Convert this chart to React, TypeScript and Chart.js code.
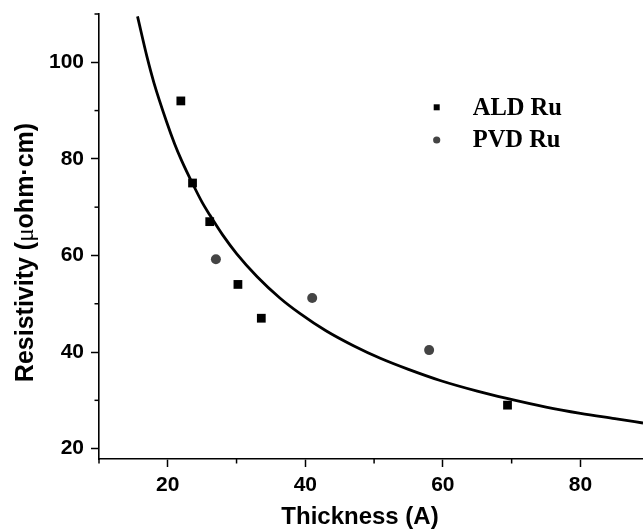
import React, { useEffect, useRef } from "react";
import { Chart, registerables } from "chart.js";

Chart.register(...registerables);

// ---- data ----
const aldThickness = [21.9, 23.6, 26.1, 30.2, 33.6, 69.4];
const aldResistivity = [92, 75, 67, 54, 47, 29];
const pvdThickness = [27.0, 41.0, 58.0];
const pvdResistivity = [59.2, 51.2, 40.4];
const fitThickness = [15.6, 17, 18, 19.8, 21, 22, 23.6, 25, 26.1, 28, 30, 33, 36.3, 39.2, 43, 47, 50.9, 55, 59.6, 65, 69.3, 75, 80, 85, 89.1];
const fitResistivity = [109.5, 101, 95.7, 87.8, 83.1, 79.7, 74.9, 71, 68.4, 64.2, 60.4, 55.6, 51.2, 48, 44.4, 41.3, 38.7, 36.4, 34.1, 31.9, 30.4, 28.6, 27.3, 26.2, 25.3];
const xTickLabels = [20, 40, 60, 80];
const yTickLabels = [20, 40, 60, 80, 100];
const xTitle = "Thickness (A)";
const yTitleParts = ["Resistivity (", "\u03bc", "ohm\u00b7cm)"];
const seriesLabels = ["ALD Ru", "PVD Ru"];

const SANS = "'Liberation Sans', Arial, sans-serif";
const SERIF = "'Liberation Serif', 'Times New Roman', serif";
const PVD_COLOR = "#444444";

const overlayPlugin = {
  id: "overlay",
  afterDraw(chart: any) {
    const ctx = chart.ctx as CanvasRenderingContext2D;
    const { left, right, top, bottom } = chart.chartArea;
    const xs = chart.scales.x;
    const ys = chart.scales.y;
    ctx.save();
    // minor ticks
    ctx.strokeStyle = "#000";
    ctx.lineWidth = 1.5;
    xs.ticks.forEach((t: any) => {
      if (!xTickLabels.includes(t.value)) {
        const px = xs.getPixelForValue(t.value);
        ctx.beginPath();
        ctx.moveTo(px, bottom);
        ctx.lineTo(px, bottom + 4.5);
        ctx.stroke();
      }
    });
    ys.ticks.forEach((t: any) => {
      if (!yTickLabels.includes(t.value)) {
        const py = ys.getPixelForValue(t.value);
        ctx.beginPath();
        ctx.moveTo(left, py);
        ctx.lineTo(left - 4.5, py);
        ctx.stroke();
      }
    });

    // x title
    ctx.fillStyle = "#000";
    ctx.font = `bold 24px ${SANS}`;
    ctx.textAlign = "center";
    ctx.textBaseline = "alphabetic";
    ctx.fillText(xTitle, (left + right) / 2 - 11, bottom + 65);

    // y title (rotated, mixed fonts)
    const fonts = [`bold 25px ${SANS}`, `25px ${SERIF}`, `bold 25px ${SANS}`];
    const widths = yTitleParts.map((p, i) => {
      ctx.font = fonts[i];
      return ctx.measureText(p).width;
    });
    const total = widths.reduce((a, b) => a + b, 0);
    const cy = (top + bottom) / 2 + 16;
    ctx.translate(left - 66.5, cy);
    ctx.rotate(-Math.PI / 2);
    ctx.textAlign = "left";
    let x0 = -total / 2;
    yTitleParts.forEach((p, i) => {
      ctx.font = fonts[i];
      ctx.fillText(p, x0, 0);
      x0 += widths[i];
    });
    ctx.setTransform(1, 0, 0, 1, 0, 0);

    // legend
    const lx = left + 337.7;
    const ly1 = top + 93.3;
    const ly2 = top + 126;
    ctx.fillStyle = "#000";
    ctx.fillRect(lx - 3, ly1 - 3, 6, 6);
    ctx.fillStyle = PVD_COLOR;
    ctx.beginPath();
    ctx.arc(lx, ly2, 3.6, 0, Math.PI * 2);
    ctx.fill();
    ctx.fillStyle = "#000";
    ctx.font = `bold 24.5px ${SERIF}`;
    ctx.textAlign = "left";
    ctx.textBaseline = "alphabetic";
    ctx.fillText(seriesLabels[0], lx + 36, ly1 + 7.7);
    ctx.fillText(seriesLabels[1], lx + 36, ly2 + 7.3);
    ctx.restore();
  },
};

export default function App() {
  const canvasRef = useRef<HTMLCanvasElement | null>(null);

  useEffect(() => {
    if (!canvasRef.current) return;
    const chart = new Chart(canvasRef.current, {
      type: "scatter",
      data: {
        datasets: [
          {
            label: seriesLabels[0],
            data: aldThickness.map((x, i) => ({ x, y: aldResistivity[i] })),
            pointStyle: "rect",
            pointRadius: 6.2,
            pointBorderWidth: 0,
            backgroundColor: "#000",
            borderColor: "#000",
          },
          {
            label: seriesLabels[1],
            data: pvdThickness.map((x, i) => ({ x, y: pvdResistivity[i] })),
            pointStyle: "circle",
            pointRadius: 5,
            pointBorderWidth: 0,
            backgroundColor: PVD_COLOR,
            borderColor: PVD_COLOR,
          },
          {
            label: "fit",
            data: fitThickness.map((x, i) => ({ x, y: fitResistivity[i] })),
            showLine: true,
            pointRadius: 0,
            borderColor: "#000",
            borderWidth: 2.8,
            cubicInterpolationMode: "monotone",
            fill: false,
          } as any,
        ],
      },
      options: {
        responsive: false,
        animation: false,
        layout: { autoPadding: false, padding: { top: 14, right: 0, left: 0, bottom: 0 } },
        plugins: {
          legend: { display: false },
          tooltip: { enabled: false },
          title: { display: false },
        },
        scales: {
          x: {
            type: "linear",
            min: 10,
            max: 89.1,
            afterFit: (s: any) => {
              s.height = 73;
              s.paddingLeft = 0;
              s.paddingRight = 0;
            },
            ticks: {
              stepSize: 10,
              includeBounds: false,
              autoSkip: false,
              maxRotation: 0,
              padding: 6,
              color: "#000",
              font: { family: SANS, weight: "bold", size: 21 },
              callback: (v: any) => (xTickLabels.includes(v) ? String(v) : ""),
            },
            grid: {
              drawOnChartArea: false,
              drawTicks: true,
              tickLength: 8,
              tickWidth: 1.5,
              tickColor: (c: any) =>
                c.tick && xTickLabels.includes(c.tick.value) ? "#000" : "rgba(0,0,0,0)",
            },
            border: { display: true, color: "#000", width: 1.6 },
          },
          y: {
            type: "linear",
            min: 17.85,
            max: 110,
            afterFit: (s: any) => {
              s.width = 99;
              s.paddingTop = 0;
              s.paddingBottom = 0;
            },
            ticks: {
              stepSize: 10,
              includeBounds: false,
              autoSkip: false,
              padding: 7,
              color: "#000",
              font: { family: SANS, weight: "bold", size: 21 },
              callback: (v: any) => (yTickLabels.includes(v) ? String(v) : ""),
            },
            grid: {
              drawOnChartArea: false,
              drawTicks: true,
              tickLength: 8,
              tickWidth: 1.5,
              tickColor: (c: any) =>
                c.tick && yTickLabels.includes(c.tick.value) ? "#000" : "rgba(0,0,0,0)",
            },
            border: { display: true, color: "#000", width: 1.6 },
          },
        },
      } as any,
      plugins: [overlayPlugin],
    });
    return () => chart.destroy();
  }, []);

  return (
    <div style={{ position: "absolute", left: 0, top: 0, width: 643, height: 532, background: "#fff" }}>
      <canvas ref={canvasRef} width={643} height={532} style={{ display: "block" }} />
    </div>
  );
}
